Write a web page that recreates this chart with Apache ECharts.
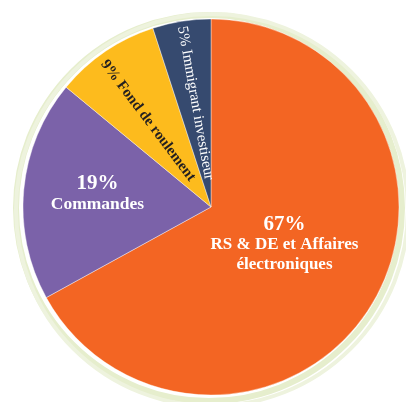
<!DOCTYPE html>
<html>
<head>
<meta charset="utf-8">
<style>
body { margin: 0; background: #fff; }
#chart { width: 406px; height: 402px; }
</style>
<script src="https://cdn.jsdelivr.net/npm/echarts@6/dist/echarts.min.js"></script>
</head>
<body>
<div id="chart"></div>
<script>
// slice data, clockwise from 12 o'clock
const names = ["RS & DE et Affaires\nélectroniques", "Commandes", "Fond de roulement", "Immigrant investiseur"];
const values = [67, 19, 9, 5];
const colors = ["#f36523", "#7b62a9", "#fdbb1d", "#364a6f"];

// label tweaks (rotation for the thin slices, nudge from the default mid point;
// the nudge is in the label's own rotated frame)
const labelRotate = [0, 0, -53, -80];
const labelShift = [[-10, -12], [-17, -4], [-10, 3], [-8, -1]];

const cx = 211, cy = 207, r = 188;

const chart = echarts.init(document.getElementById("chart"), null, { renderer: "canvas" });

const data = values.map((v, i) => {
  const big = i < 2;
  return {
    name: names[i],
    value: v,
    itemStyle: { color: colors[i] },
    label: big ? {
      formatter: p => "{p|" + p.value + "%}\n" + p.name.split("\n").map(s => "{n|" + s + "}").join("\n"),
      rich: {
        p: { fontSize: 21, fontWeight: "bold", color: "#fff", fontFamily: "Liberation Serif", lineHeight: 21 },
        n: { fontSize: i === 0 ? 17 : 17.5, fontWeight: "bold", color: "#fff", fontFamily: "Liberation Serif", lineHeight: 20 }
      }
    } : {
      formatter: p => p.value + "% " + p.name,
      rotate: labelRotate[i],
      fontSize: 15,
      fontWeight: i === 2 ? "bold" : "normal",
      color: i === 2 ? "#231f20" : "#fff",
      fontFamily: "Liberation Serif"
    }
  };
});

chart.setOption({
  animation: false,
  graphic: [
    { type: "circle", silent: true, z: -1, shape: { cx: cx - 2, cy: cy + 1, r: r + 5 },
      style: { fill: "none", stroke: "#e6eecd", lineWidth: 6 } },
    { type: "circle", silent: true, z: -1, shape: { cx: cx + 1, cy: cy + 3, r: r + 8 },
      style: { fill: "none", stroke: "#eef3de", lineWidth: 4 } }
  ],
  series: [{
    type: "pie",
    center: [cx, cy],
    radius: [0, r],
    startAngle: 90,
    clockwise: true,
    data: data,
    itemStyle: { borderColor: "#fff", borderWidth: 0.4 },
    label: { show: true, position: "inside", align: "center" },
    labelLine: { show: false },
    labelLayout: p => ({ dx: labelShift[p.dataIndex][0], dy: labelShift[p.dataIndex][1] }),
    emphasis: { disabled: true }
  }]
});
</script>
</body>
</html>
